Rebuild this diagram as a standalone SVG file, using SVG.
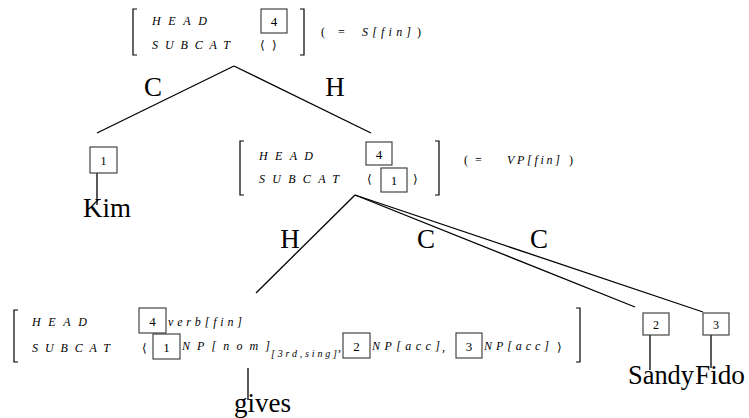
<svg xmlns="http://www.w3.org/2000/svg" width="749" height="418" viewBox="0 0 749 418">
<style>
.lbl{font-family:"Liberation Serif",serif;font-style:italic;font-size:12px;fill:#000}
.txt{font-family:"Liberation Serif",serif;font-size:12px;fill:#000}
.ang{font-family:"DejaVu Serif","Liberation Serif",serif;font-size:12px;fill:#000}
.num{font-family:"Liberation Serif",serif;font-size:13px;text-anchor:middle;fill:#000}
.word{font-family:"Liberation Serif",serif;font-size:27px;fill:#000}
.elab{font-family:"Liberation Serif",serif;font-size:27px;text-anchor:middle;fill:#000}
.box{fill:#fff;stroke:#333;stroke-width:1.1}
.br{fill:none;stroke:#000;stroke-width:1.2}
.edge{stroke:#000;stroke-width:1.3;fill:none}
</style>
<rect width="749" height="418" fill="#fff"/>
<g id="connectors">
<line class="edge" x1="234" y1="66" x2="97" y2="133"/>
<line class="edge" x1="234" y1="66" x2="371" y2="133"/>
<line class="edge" x1="97" y1="173" x2="97" y2="205"/>
<line class="edge" x1="355" y1="195" x2="256" y2="293"/>
<line class="edge" x1="355" y1="195" x2="635" y2="307"/>
<line class="edge" x1="355" y1="195" x2="703" y2="312"/>
<line class="edge" x1="248" y1="368" x2="248" y2="400"/>
<line class="edge" x1="650" y1="335" x2="650" y2="370"/>
<line class="edge" x1="711" y1="335" x2="711" y2="368"/>
<text class="elab" x="153" y="96">C</text>
<text class="elab" x="335" y="96">H</text>
<text class="elab" x="290" y="248">H</text>
<text class="elab" x="426" y="248">C</text>
<text class="elab" x="539" y="248">C</text>
</g>
<g id="root">
<path class="br" d="M137,9 H133 V55 H137"/>
<text class="lbl" x="152" y="25" textLength="55" lengthAdjust="spacing">HEAD</text>
<text class="lbl" x="152" y="49" textLength="78" lengthAdjust="spacing">SUBCAT</text>
<rect class="box" x="261" y="9" width="26" height="24"/>
<text class="num" x="274" y="26">4</text>
<text class="ang" x="260" y="49">⟨</text>
<text class="ang" x="272" y="49">⟩</text>
<path class="br" d="M300,9 H304 V55 H300"/>
<text class="txt" x="321" y="36">(</text>
<text class="txt" x="338" y="36">=</text>
<text class="lbl" x="362" y="36" textLength="49" lengthAdjust="spacing">S[fin]</text>
<text class="txt" x="417" y="36">)</text>
</g>
<g id="kim">
<rect class="box" x="90" y="147" width="27" height="26"/>
<text class="num" x="103.5" y="165" style="font-size:12px">1</text>
<text class="word" x="83" y="217">Kim</text>
</g>
<g id="vp">
<path class="br" d="M244,141 H240 V195 H244"/>
<text class="lbl" x="259" y="160" textLength="54" lengthAdjust="spacing">HEAD</text>
<text class="lbl" x="259" y="183" textLength="80" lengthAdjust="spacing">SUBCAT</text>
<rect class="box" x="366" y="142" width="26" height="23"/>
<text class="num" x="379" y="159">4</text>
<text class="ang" x="367" y="183">⟨</text>
<rect class="box" x="381" y="168" width="26" height="24"/>
<text class="num" x="394" y="185">1</text>
<text class="ang" x="413" y="183">⟩</text>
<path class="br" d="M435,141 H439 V195 H435"/>
<text class="txt" x="464" y="164">(</text>
<text class="txt" x="475" y="164">=</text>
<text class="lbl" x="507" y="164" textLength="53" lengthAdjust="spacing">VP[fin]</text>
<text class="txt" x="569" y="164">)</text>
</g>
<g id="gives">
<path class="br" d="M18,310 H14 V362 H18"/>
<text class="lbl" x="32" y="326" textLength="55" lengthAdjust="spacing">HEAD</text>
<text class="lbl" x="32" y="352" textLength="78" lengthAdjust="spacing">SUBCAT</text>
<rect class="box" x="139" y="308" width="27" height="25"/>
<text class="num" x="152.5" y="326">4</text>
<text class="lbl" x="168" y="326" textLength="74" lengthAdjust="spacing">verb[fin]</text>
<text class="ang" x="142" y="352">⟨</text>
<rect class="box" x="153" y="334" width="27" height="25"/>
<text class="num" x="166.5" y="352">1</text>
<text class="lbl" x="182" y="350" textLength="88" lengthAdjust="spacing">NP[nom]</text>
<text class="lbl" x="271" y="357" style="font-size:10px" textLength="66" lengthAdjust="spacing">[3rd,sing]</text>
<text class="txt" x="338" y="351">,</text>
<rect class="box" x="343" y="333" width="27" height="25"/>
<text class="num" x="356.5" y="351">2</text>
<text class="lbl" x="372" y="350" textLength="68" lengthAdjust="spacing">NP[acc]</text>
<text class="txt" x="442" y="351">,</text>
<rect class="box" x="456" y="333" width="26" height="25"/>
<text class="num" x="469" y="351">3</text>
<text class="lbl" x="484" y="350" textLength="65" lengthAdjust="spacing">NP[acc]</text>
<text class="ang" x="557" y="351">⟩</text>
<path class="br" d="M576,308 H580 V362 H576"/>
<text class="word" x="234" y="412">gives</text>
</g>
<g id="sandy">
<rect class="box" x="643" y="313" width="26" height="22"/>
<text class="num" x="656" y="329" style="font-size:12px">2</text>
<text class="word" x="628" y="384" textLength="66" lengthAdjust="spacingAndGlyphs">Sandy</text>
</g>
<g id="fido">
<rect class="box" x="703" y="313" width="26" height="22"/>
<text class="num" x="716" y="329" style="font-size:12px">3</text>
<text class="word" x="695" y="384" textLength="50" lengthAdjust="spacingAndGlyphs">Fido</text>
</g>
</svg>
